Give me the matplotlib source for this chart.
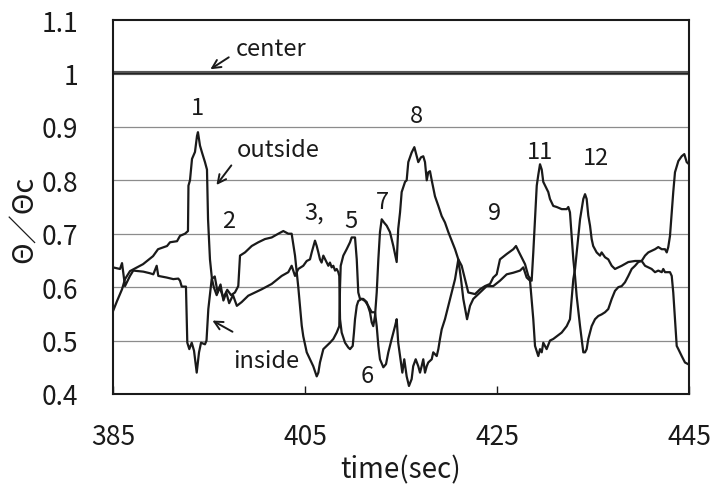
import matplotlib
matplotlib.use("Agg")
import matplotlib.pyplot as plt

# ---------------- data ----------------
t_a = [385.0, 385.42, 385.94, 386.25, 386.77, 387.81, 388.13, 389.17, 389.69, 390.63, 390.94, 391.67,
       391.98, 392.5, 392.81, 392.86, 393.02, 393.23, 393.54, 393.75, 393.85, 394.06, 394.27, 394.58,
       394.79, 394.9, 395.1, 395.31, 395.5, 395.8, 396.1, 396.5, 396.9, 397.3, 397.7, 398.05,
       398.23, 398.75, 399.45, 400.14, 400.83, 401.53, 402.22, 402.74, 403.26, 403.61, 403.96, 404.3,
       404.66, 404.82, 405.18, 405.52, 405.86, 406.22, 406.39, 406.56, 406.91, 407.26, 407.6, 407.95,
       408.3, 408.57, 408.65, 408.72, 408.99, 409.34, 409.69, 409.86, 410.21, 410.39, 410.55, 410.73,
       411.07, 411.43, 411.77, 411.95, 412.11, 412.29, 412.47, 412.64, 412.81, 412.99, 413.23, 413.51,
       413.85, 414.2, 414.55, 414.71, 414.9, 415.07, 415.42, 415.59, 415.76, 416.11, 416.39, 416.64,
       416.8, 417.08, 417.32, 417.5, 417.68, 417.84, 418.02, 418.2, 418.54, 418.89, 419.24, 419.58,
       419.93, 420.63, 420.97, 421.32, 421.67, 422.01, 422.71, 423.23, 423.75, 424.27, 424.61, 424.97,
       425.31, 426.01, 426.7, 426.98, 427.22, 427.92, 428.26, 428.61, 428.78, 428.96, 429.14, 429.3,
       429.48, 429.66, 429.82, 430.34, 430.52, 430.86, 431.22, 431.74, 432.26, 432.43, 432.6, 432.78,
       432.95, 433.13, 433.3, 433.65, 433.82, 433.99, 434.17, 434.34, 434.51, 434.86, 435.21, 435.55,
       435.9, 436.25, 436.59, 436.95, 437.29, 437.64, 437.99, 438.33, 438.68, 439.03, 439.38, 439.72,
       440.07, 440.42, 440.76, 441.11, 441.46, 441.8, 442.16, 442.5, 442.68, 442.84, 443.02, 443.2,
       443.36, 443.54, 443.89, 444.24, 444.51, 444.76, 445.0]
v_a = [0.555, 0.574, 0.596, 0.615, 0.63, 0.64, 0.643, 0.658, 0.671, 0.677, 0.684, 0.686,
       0.696, 0.70, 0.705, 0.79, 0.80, 0.84, 0.853, 0.883, 0.89, 0.865, 0.852, 0.834,
       0.82, 0.727, 0.652, 0.615, 0.60, 0.585, 0.60, 0.58, 0.595, 0.585, 0.59, 0.602,
       0.659, 0.665, 0.677, 0.684, 0.69, 0.693, 0.70, 0.705, 0.70, 0.70, 0.659, 0.60,
       0.528, 0.508, 0.478, 0.465, 0.452, 0.433, 0.44, 0.459, 0.484, 0.49, 0.496, 0.503,
       0.515, 0.527, 0.602, 0.64, 0.659, 0.671, 0.684, 0.693, 0.693, 0.652, 0.59, 0.578,
       0.578, 0.572, 0.553, 0.534, 0.527, 0.546, 0.59, 0.652, 0.703, 0.727, 0.721, 0.715,
       0.703, 0.677, 0.647, 0.709, 0.74, 0.778, 0.797, 0.80, 0.834, 0.852, 0.862, 0.845,
       0.834, 0.843, 0.845, 0.834, 0.80, 0.815, 0.817, 0.80, 0.77, 0.752, 0.733, 0.721,
       0.703, 0.671, 0.652, 0.64, 0.615, 0.59, 0.587, 0.596, 0.602, 0.606, 0.618, 0.624,
       0.652, 0.662, 0.671, 0.677, 0.668, 0.643, 0.621, 0.612, 0.665, 0.727, 0.79, 0.81,
       0.83, 0.82, 0.797, 0.778, 0.765, 0.752, 0.75, 0.746, 0.746, 0.75, 0.74, 0.696,
       0.652, 0.62, 0.583, 0.527, 0.503, 0.478, 0.478, 0.484, 0.503, 0.527, 0.54, 0.546,
       0.549, 0.553, 0.559, 0.578, 0.593, 0.60, 0.602, 0.609, 0.621, 0.634, 0.64, 0.647,
       0.649, 0.659, 0.665, 0.668, 0.671, 0.675, 0.671, 0.671, 0.665, 0.675, 0.696, 0.74,
       0.778, 0.815, 0.836, 0.845, 0.849, 0.834, 0.83]

t_b = [385.0, 385.73, 385.94, 386.25, 386.77, 387.11, 388.16, 388.85, 389.2, 389.55, 389.72, 390.59,
       391.28, 391.8, 391.98, 392.16, 392.6, 392.74, 392.95, 393.2, 393.44, 393.72, 393.96, 394.17,
       394.58, 394.74, 394.93, 395.28, 395.6, 395.9, 396.2, 396.5, 396.8, 397.1, 397.5, 397.9,
       398.4, 399.09, 399.79, 400.49, 401.53, 402.57, 403.26, 403.61, 403.96, 404.3, 404.82, 405.18,
       405.52, 405.7, 406.04, 406.22, 406.39, 406.56, 406.73, 406.91, 407.26, 407.43, 407.6, 407.78,
       407.95, 408.13, 408.3, 408.47, 408.57, 408.65, 408.82, 409.17, 409.51, 409.69, 409.97, 410.1,
       410.21, 410.39, 410.55, 410.9, 411.25, 411.59, 411.95, 412.29, 412.47, 412.64, 412.81, 413.16,
       413.44, 413.68, 414.03, 414.38, 414.55, 414.71, 415.0, 415.14, 415.34, 415.59, 415.83, 416.11,
       416.27, 416.53, 416.8, 416.98, 417.15, 417.32, 417.5, 417.68, 417.84, 418.2, 418.36, 418.72,
       418.89, 419.06, 419.24, 419.58, 419.93, 420.28, 420.63, 420.97, 421.25, 421.49, 421.88, 422.19,
       422.53, 423.23, 423.93, 424.61, 425.31, 426.01, 426.7, 427.4, 427.74, 428.09, 428.44, 428.78,
       428.96, 429.3, 429.48, 429.66, 429.82, 430.17, 430.52, 430.86, 431.22, 431.74, 432.26, 432.6,
       432.78, 432.95, 433.13, 433.3, 433.47, 433.65, 433.99, 434.17, 434.34, 434.51, 434.69, 434.86,
       435.02, 435.38, 435.73, 435.9, 436.25, 436.59, 436.95, 437.29, 437.64, 437.99, 438.68, 439.38,
       440.07, 440.42, 440.76, 441.11, 441.46, 441.8, 442.16, 442.32, 442.5, 443.02, 443.2, 443.36,
       443.54, 443.72, 443.89, 444.24, 444.58, 445.0]
v_b = [0.637, 0.634, 0.645, 0.602, 0.621, 0.631, 0.629, 0.626, 0.624, 0.640, 0.621, 0.618,
       0.615, 0.616, 0.612, 0.601, 0.601, 0.496, 0.484, 0.496, 0.481, 0.44, 0.478, 0.496,
       0.493, 0.50, 0.559, 0.615, 0.62, 0.59, 0.605, 0.575, 0.59, 0.57, 0.585, 0.565,
       0.572, 0.584, 0.59, 0.596, 0.606, 0.621, 0.628, 0.64, 0.621, 0.634, 0.64, 0.649,
       0.652, 0.665, 0.687, 0.677, 0.665, 0.652, 0.646, 0.659, 0.646, 0.64, 0.646, 0.637,
       0.64, 0.631, 0.634, 0.628, 0.621, 0.54, 0.515, 0.496, 0.487, 0.484, 0.49, 0.515,
       0.54, 0.565, 0.574, 0.578, 0.574, 0.565, 0.553, 0.553, 0.527, 0.49, 0.465, 0.45,
       0.456, 0.478, 0.503, 0.527, 0.54, 0.496, 0.459, 0.44, 0.465, 0.433, 0.415, 0.428,
       0.452, 0.465, 0.452, 0.44, 0.452, 0.465, 0.44, 0.452, 0.459, 0.465, 0.478, 0.471,
       0.484, 0.503, 0.521, 0.54, 0.565, 0.59, 0.615, 0.652, 0.615, 0.578, 0.54, 0.565,
       0.578, 0.59, 0.602, 0.602, 0.612, 0.624, 0.627, 0.631, 0.637, 0.618, 0.612, 0.54,
       0.49, 0.471, 0.484, 0.478, 0.496, 0.484, 0.50, 0.503, 0.508, 0.515, 0.527, 0.54,
       0.578, 0.615, 0.634, 0.665, 0.696, 0.727, 0.765, 0.774, 0.765, 0.734, 0.715, 0.69,
       0.677, 0.665, 0.659, 0.665, 0.656, 0.652, 0.64, 0.634, 0.637, 0.64, 0.647, 0.649,
       0.649, 0.64, 0.637, 0.634, 0.628, 0.631, 0.628, 0.634, 0.628, 0.628, 0.621, 0.59,
       0.54, 0.49, 0.484, 0.471, 0.459, 0.455]

center_value = 1.0
x_ticks = [385, 405, 425, 445]
y_ticks = [0.4, 0.5, 0.6, 0.7, 0.8, 0.9, 1.0, 1.1]
y_tick_labels = ["0.4", "0.5", "0.6", "0.7", "0.8", "0.9", "1", "1.1"]
event_labels = ["1", "2", "3,", "5", "6", "7", "8", "9", "11", "12"]
event_t = [393.8, 397.0, 406.0, 409.8, 411.5, 413.1, 416.6, 424.7, 429.5, 435.3]
event_v = [0.937, 0.724, 0.74, 0.724, 0.435, 0.76, 0.922, 0.739, 0.853, 0.843]

# ---------------- style ----------------
plt.rcParams['font.family'] = ['Noto Sans CJK JP', 'DejaVu Sans']

fig = plt.figure(figsize=(7.11, 4.85), dpi=100)
ax = fig.add_axes([113/711, 1-395/485, (689-113)/711, (395-21)/485])

ink = "#1a1a1a"
for y in [0.5, 0.6, 0.7, 0.8, 0.9]:
    ax.axhline(y, color="#8c8c8c", lw=0.9, zorder=1)
ax.axhline(center_value, color="#555555", lw=3.0, zorder=2)
ax.axhline(center_value, color="#222222", lw=0.8, zorder=2)

ax.plot(t_a, v_a, color=ink, lw=1.6, zorder=3)
ax.plot(t_b, v_b, color=ink, lw=1.6, zorder=3)

ax.set_xlim(385, 445)
ax.set_ylim(0.4, 1.1)
ax.set_xticks(x_ticks)
ax.set_xticklabels([str(x) for x in x_ticks])
ax.set_yticks(y_ticks)
ax.set_yticklabels(y_tick_labels)
ax.tick_params(axis='x', direction='in', length=6, width=1, pad=21, labelsize=19, colors=ink)
ax.tick_params(axis='y', length=0, pad=25, labelsize=19, colors=ink)
for s in ax.spines.values():
    s.set_color(ink)
    s.set_linewidth(1.5)

ax.set_xlabel("time(sec)", fontsize=20, color=ink, labelpad=3)
ax.set_ylabel("Θ／Θc", fontsize=21, color=ink)
ax.yaxis.set_label_coords(-0.128, 0.47)

for lab, t, v in zip(event_labels, event_t, event_v):
    ax.text(t, v, lab, fontsize=17, ha='center', va='center', color=ink)

arrow_kw = dict(arrowstyle='->', color=ink, lw=1.4, mutation_scale=15)
ax.annotate("", xy=(394.9, 1.005), xytext=(397.3, 1.033), arrowprops=arrow_kw)
ax.text(397.8, 1.046, "center", fontsize=17, ha='left', va='center', color=ink)
ax.annotate("", xy=(395.6, 0.787), xytext=(397.5, 0.832), arrowprops=arrow_kw)
ax.text(397.9, 0.857, "outside", fontsize=17, ha='left', va='center', color=ink)
ax.annotate("", xy=(395.1, 0.54), xytext=(397.7, 0.514), arrowprops=arrow_kw)
ax.text(397.5, 0.462, "inside", fontsize=17, ha='left', va='center', color=ink)

fig.savefig("out.png", dpi=100)
